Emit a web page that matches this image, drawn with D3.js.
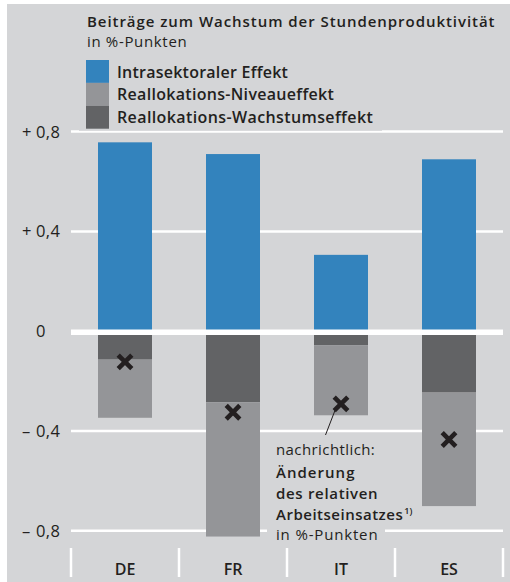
<!DOCTYPE html>
<html><head><meta charset="utf-8">
<script src="https://cdn.jsdelivr.net/npm/d3@7"></script>
<style>
html,body{margin:0;padding:0;background:#fff;}
svg{display:block;font-family:"Open Sans",sans-serif;}
</style></head>
<body>
<svg id="c" width="510" height="582"></svg>
<script>
const categories = ["DE", "FR", "IT", "ES"];
const intrasektoral = [0.757, 0.71, 0.306, 0.689];
const wachstumseffekt = [-0.114, -0.285, -0.057, -0.246];
const niveaueffekt = [-0.233, -0.538, -0.28, -0.455];
const arbeitseinsatz = [-0.123, -0.325, -0.291, -0.434];
const yTicks = [0.8, 0.4, 0, -0.4, -0.8];
const title = "Beiträge zum Wachstum der Stundenproduktivität";
const subtitle = "in %-Punkten";
const legendLabels = ["Intrasektoraler Effekt", "Reallokations-Niveaueffekt", "Reallokations-Wachstumseffekt"];

const colBlue = "#3383bd", colLight = "#949598", colDark = "#626365", bg = "#d4d5d7", ink = "#231f20";

const svg = d3.select("#c");
svg.append("rect").attr("x", 7).attr("y", 4).attr("width", 503).attr("height", 578).attr("fill", bg);

// widen a text via letter spacing so it spans the target width
function fit(sel, w) {
  const m = sel.node().getComputedTextLength();
  const n = sel.text().length;
  if (m > 0 && n > 1) sel.attr("letter-spacing", ((w - m) / (n - 0.5)).toFixed(3));
  return sel;
}

const y = d3.scaleLinear().domain([-0.8, 0.8]).range([530.8, 131.6]);
const x = d3.scaleBand().domain(categories).range([71, 503]).paddingInner(0.5).paddingOuter(0.25);

// gridlines
svg.append("g").selectAll("line").data(yTicks.filter(d => d !== 0)).join("line")
  .attr("x1", 71).attr("x2", 503).attr("y1", d => y(d)).attr("y2", d => y(d))
  .attr("stroke", "#fff").attr("stroke-width", 2.5);

// y labels
const fmt = v => Math.abs(v).toFixed(1).replace(".", ",");
const yl = svg.append("g").attr("fill", ink).attr("font-size", 16.5);
yTicks.forEach(v => {
  if (v !== 0) yl.append("text").attr("x", 22).attr("y", y(v) + 6).text(v > 0 ? "+" : "\u2013");
  const t = yl.append("text").attr("x", 36).attr("y", y(v) + 6).text(v === 0 ? "0" : fmt(v));
  if (v !== 0) fit(t, 24);
});

// bars
const data = categories.map((c, i) => ({c, intra: intrasektoral[i], w: wachstumseffekt[i], n: niveaueffekt[i], a: arbeitseinsatz[i]}));
const g = svg.append("g");
g.selectAll(".b").data(data).join("rect")
  .attr("x", d => x(d.c)).attr("width", x.bandwidth())
  .attr("y", d => y(d.intra)).attr("height", d => y(0) - y(d.intra)).attr("fill", colBlue);
g.selectAll(".w").data(data).join("rect")
  .attr("x", d => x(d.c)).attr("width", x.bandwidth())
  .attr("y", y(0)).attr("height", d => y(d.w) - y(0)).attr("fill", colDark);
g.selectAll(".n").data(data).join("rect")
  .attr("x", d => x(d.c)).attr("width", x.bandwidth())
  .attr("y", d => y(d.w)).attr("height", d => y(d.w + d.n) - y(d.w)).attr("fill", colLight);

// zero line
svg.append("line").attr("x1", 71).attr("x2", 503).attr("y1", y(0) + 1).attr("y2", y(0) + 1)
  .attr("stroke", "#fff").attr("stroke-width", 5.5);

// legend background (covers gridline)
svg.append("rect").attr("x", 79).attr("y", 55).attr("width", 303).attr("height", 75.8).attr("fill", bg);
// title
fit(svg.append("text").attr("x", 87).attr("y", 27.3).attr("fill", ink).attr("font-size", 15).attr("font-weight", 600).text(title), 408);
fit(svg.append("text").attr("x", 87).attr("y", 46.7).attr("fill", ink).attr("font-size", 15).attr("font-weight", 400).text(subtitle), 100);
// legend
const lc = [colBlue, colLight, colDark];
const lw = [171, 217, 256];
legendLabels.forEach((t, i) => {
  svg.append("rect").attr("x", 86).attr("y", 60 + i * 22.9).attr("width", 23).attr("height", 22.9).attr("fill", lc[i]);
  fit(svg.append("text").attr("x", 117).attr("y", 77.5 + i * 22.7).attr("fill", ink).attr("font-size", 16).attr("font-weight", 600).text(t), lw[i]);
});

// annotation
svg.append("rect").attr("x", 267).attr("y", 437).attr("width", 118).attr("height", 108).attr("fill", bg);
svg.append("line").attr("x1", 325.5).attr("y1", 435).attr("x2", 336).attr("y2", y(arbeitseinsatz[2]) + 4)
  .attr("stroke", ink).attr("stroke-width", 1);
const an = svg.append("g").attr("fill", ink).attr("font-size", 15);
fit(an.append("text").attr("x", 276).attr("y", 455).attr("font-weight", 400).text("nachrichtlich:"), 99);
fit(an.append("text").attr("x", 276).attr("y", 478).attr("font-weight", 600).text("Änderung"), 79);
fit(an.append("text").attr("x", 276).attr("y", 499).attr("font-weight", 600).text("des relativen"), 102);
const at = an.append("text").attr("x", 276).attr("y", 520).attr("font-weight", 600).text("Arbeitseinsatzes");
fit(at, 127);
at.append("tspan").attr("font-size", 9).attr("dy", -6).attr("letter-spacing", 0).attr("dx", 1).text("1)");
fit(an.append("text").attr("x", 276).attr("y", 540).attr("font-weight", 400).text("in %-Punkten"), 102);

// crosses
const s = 6.8;
svg.append("g").selectAll("path").data(data).join("path")
  .attr("d", d => {
    const cx = x(d.c) + x.bandwidth() / 2, cy = y(d.a);
    return `M${cx - s},${cy - s}L${cx + s},${cy + s}M${cx - s},${cy + s}L${cx + s},${cy - s}`;
  })
  .attr("stroke", ink).attr("stroke-width", 4.6).attr("fill", "none");

// separators
const seps = categories.map(c => x(c) - x.step() * x.paddingInner() / 2);
seps.push(503);
svg.append("g").selectAll("line").data(seps).join("line")
  .attr("x1", d => d).attr("x2", d => d).attr("y1", 548).attr("y2", 577)
  .attr("stroke", "#fff").attr("stroke-width", 2.5);

// category labels
svg.append("g").selectAll("text").data(categories).join("text")
  .attr("x", d => x(d) + x.bandwidth() / 2).attr("y", 575).attr("text-anchor", "middle")
  .attr("fill", ink).attr("font-size", 16).attr("font-weight", 600).text(d => d);
</script>
</body></html>
